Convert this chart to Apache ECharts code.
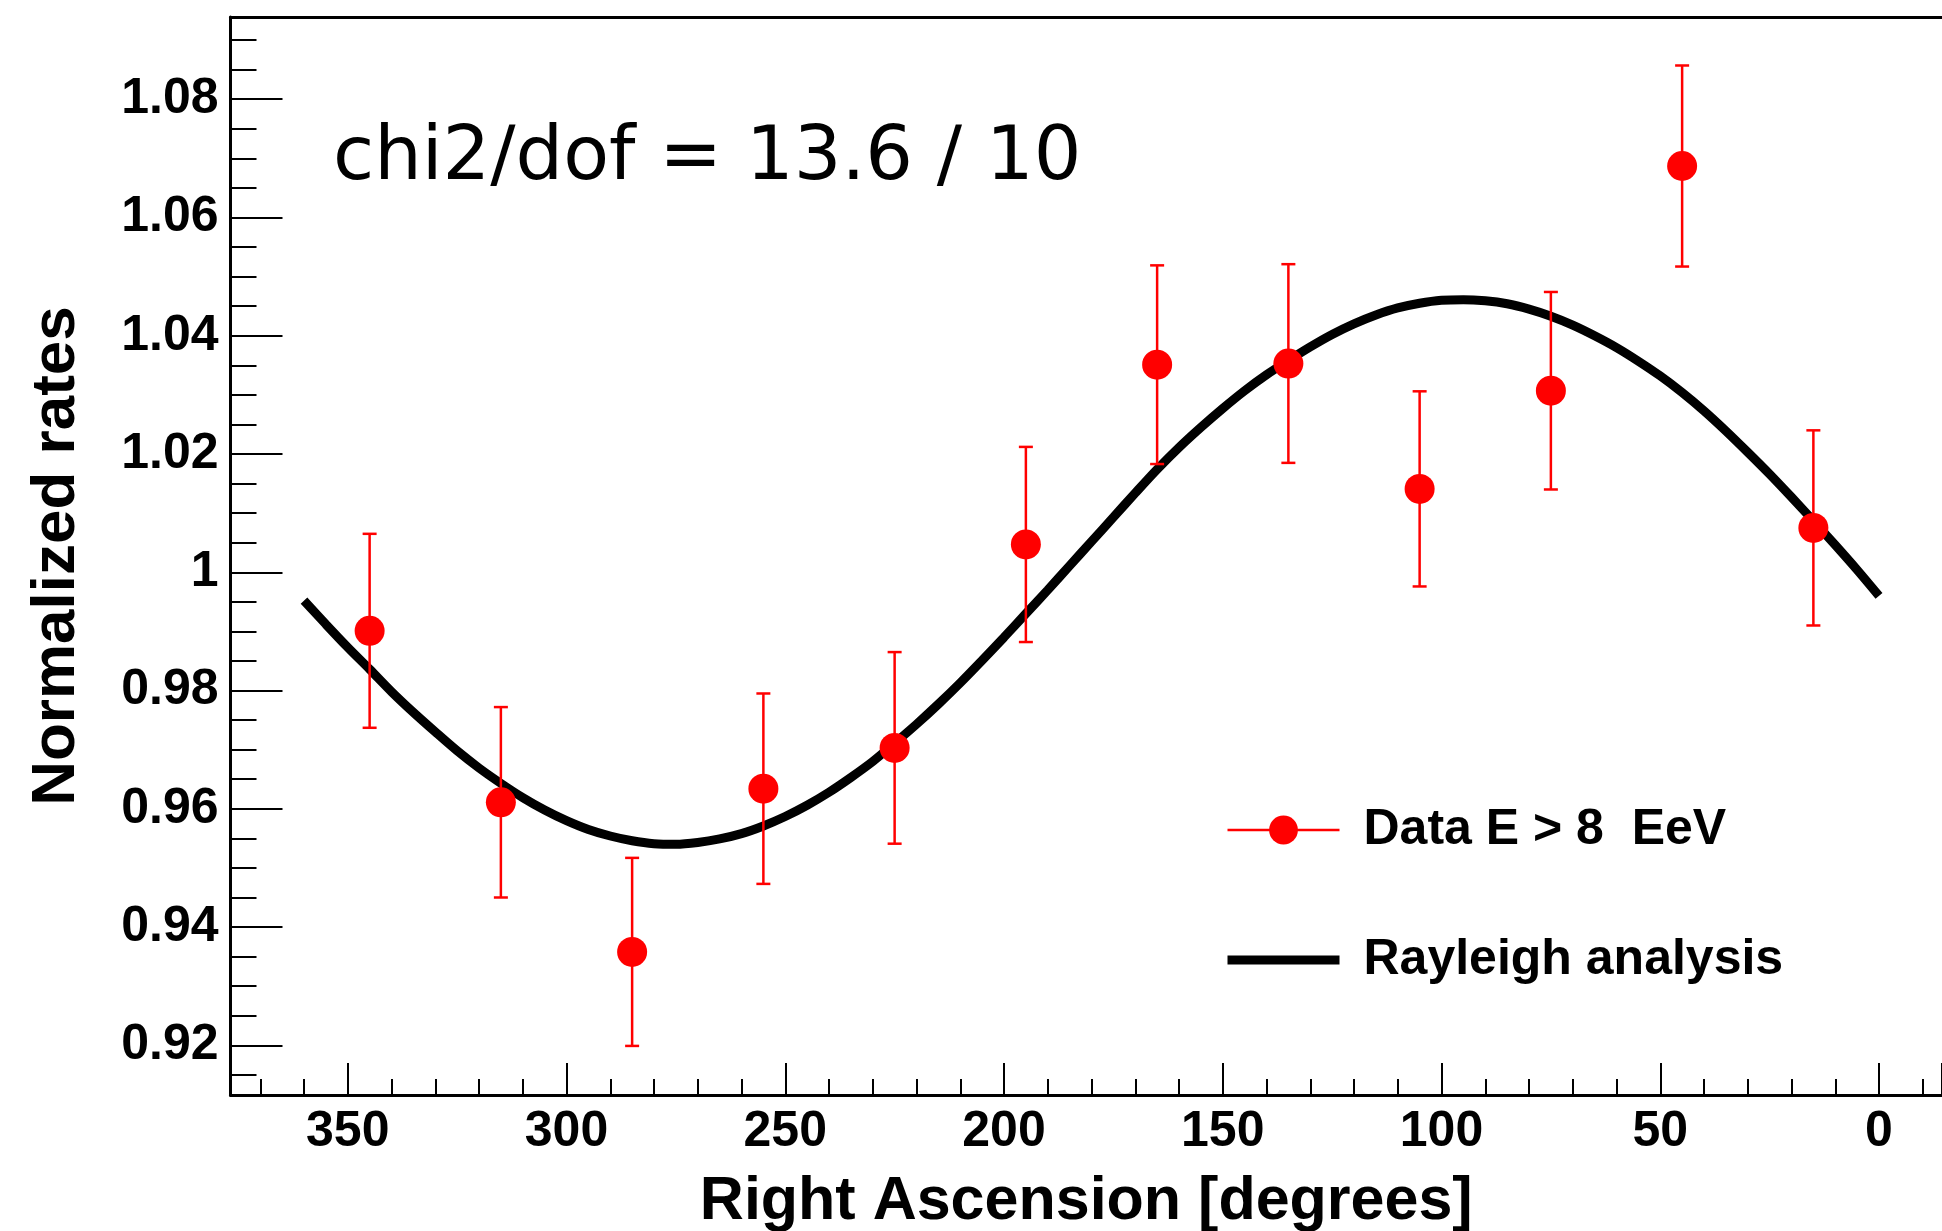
<!DOCTYPE html>
<html>
<head>
<meta charset="utf-8">
<title>Right Ascension rates</title>
<script src="https://cdn.jsdelivr.net/npm/echarts@6/dist/echarts.min.js"></script>
<style>
  html, body { margin: 0; padding: 0; background: #fff; }
  #chart-container { width: 1942px; height: 1231px; }
</style>
</head>
<body>
<div id="chart-container"></div>
<script>
// binned data (RA bin centres, normalized rate, 1-sigma error)
var raBins = [345, 315, 285, 255, 225, 195, 165, 135, 105, 75, 45, 15];
var rates = [0.9901, 0.9611, 0.9358, 0.9634, 0.9703, 1.0047, 1.0351, 1.0353, 1.0141, 1.0307, 1.0687, 1.0075];
var rateErrors = [0.0164, 0.0161, 0.0159, 0.0161, 0.0162, 0.0165, 0.0168, 0.0168, 0.0165, 0.0167, 0.0170, 0.0165];

// Rayleigh curve, every 5 degrees (360 -> 0)
var fitRA = [360, 355, 350, 345, 340, 335, 330, 325, 320, 315, 310, 305, 300,
             295, 290, 285, 280, 275, 270, 265, 260, 255, 250, 245, 240,
             235, 230, 225, 220, 215, 210, 205, 200, 195, 190, 185, 180,
             175, 170, 165, 160, 155, 150, 145, 140, 135, 130, 125, 120,
             115, 110, 105, 100, 95, 90, 85, 80, 75, 70, 65, 60,
             55, 50, 45, 40, 35, 30, 25, 20, 15, 10, 5, 0];
var fitRates = [0.9952, 0.9912, 0.9873, 0.9836, 0.9798, 0.9763, 0.9730, 0.9698, 0.9669,
                0.9643, 0.9619, 0.9598, 0.9580, 0.9565, 0.9554, 0.9546, 0.9541, 0.9540,
                0.9543, 0.9549, 0.9558, 0.9571, 0.9587, 0.9606, 0.9628, 0.9653, 0.9680,
                0.9711, 0.9743, 0.9777, 0.9813, 0.9851, 0.9890, 0.9930, 0.9970, 1.0011,
                1.0052, 1.0093, 1.0134, 1.0174, 1.0211, 1.0245, 1.0277, 1.0307, 1.0334,
                1.0358, 1.0381, 1.0402, 1.0420, 1.0435, 1.0447, 1.0455, 1.0460, 1.0461,
                1.0459, 1.0454, 1.0445, 1.0433, 1.0418, 1.0400, 1.0380, 1.0357, 1.0332,
                1.0304, 1.0273, 1.0239, 1.0203, 1.0166, 1.0127, 1.0087, 1.0046, 1.0004,
                0.9960];

var dataName = 'Data E > 8  EeV';
var fitName = 'Rayleigh analysis';
var chi2Text = 'chi2/dof = 13.6 / 10';

var dom = document.getElementById('chart-container');
var myChart = echarts.init(dom, null, { renderer: 'canvas' });

var labelFont = 'Liberation Sans, Arial, Helvetica, sans-serif';

function onStep(v, step) {
    var k = v / step;
    return Math.abs(k - Math.round(k)) < 1e-6;
}

function renderErrorBar(params, api) {
    var x = api.value(0);
    var top = api.coord([x, api.value(2)]);
    var bottom = api.coord([x, api.value(1)]);
    var cap = 7;
    var style = { stroke: '#ff0000', lineWidth: 2.5 };
    return {
        type: 'group',
        children: [
            { type: 'line', shape: { x1: top[0], y1: top[1], x2: bottom[0], y2: bottom[1] }, style: style },
            { type: 'line', shape: { x1: top[0] - cap, y1: top[1], x2: top[0] + cap, y2: top[1] }, style: style },
            { type: 'line', shape: { x1: bottom[0] - cap, y1: bottom[1], x2: bottom[0] + cap, y2: bottom[1] }, style: style }
        ]
    };
}

var option = {
    animation: false,
    backgroundColor: '#ffffff',
    title: {
        text: chi2Text,
        left: 333,
        top: 122,
        padding: 0,
        textStyle: {
            fontFamily: 'DejaVu Sans',
            fontWeight: 'normal',
            fontSize: 75,
            color: '#000'
        }
    },
    legend: {
        orient: 'vertical',
        left: 1223,
        top: 805,
        padding: 0,
        itemGap: 80,
        itemWidth: 112,
        itemHeight: 36,
        textStyle: {
            fontFamily: labelFont,
            fontWeight: 'bold',
            fontSize: 50,
            color: '#000',
            padding: [0, 0, 0, 19]
        },
        data: [
            { name: dataName, lineStyle: { color: '#ff0000', width: 2.5, opacity: 1 } },
            { name: fitName, lineStyle: { color: '#000', width: 9 }, itemStyle: { opacity: 0 } }
        ]
    },
    grid: {
        left: 230.5,
        right: 0,
        top: 17,
        bottom: 136,
        containLabel: false,
        outerBoundsMode: 'none'
    },
    xAxis: [
        {
            type: 'value',
            inverse: true,
            min: -14.4,
            max: 376.8,
            minInterval: 50,
            maxInterval: 50,
            splitNumber: 8,
            position: 'bottom',
            name: 'Right Ascension [degrees]',
            nameLocation: 'middle',
            nameGap: 77,
            nameTextStyle: {
                fontFamily: labelFont,
                fontWeight: 'bold',
                fontSize: 61,
                color: '#000'
            },
            axisLine: { onZero: false, lineStyle: { color: '#000', width: 3 } },
            axisTick: { inside: true, length: 32, lineStyle: { color: '#000', width: 2 } },
            minorTick: { show: true, splitNumber: 5, length: 16, lineStyle: { color: '#000', width: 2 } },
            splitLine: { show: false },
            axisLabel: {
                margin: 12,
                fontFamily: labelFont,
                fontWeight: 'bold',
                fontSize: 50,
                color: '#000',
                formatter: function (v) { return onStep(v, 50) ? String(Math.round(v)) : ''; }
            }
        },
        {
            type: 'value',
            inverse: true,
            min: -14.4,
            max: 376.8,
            position: 'top',
            axisLine: { onZero: false, lineStyle: { color: '#000', width: 3 } },
            axisTick: { show: false },
            axisLabel: { show: false },
            splitLine: { show: false }
        }
    ],
    yAxis: {
        type: 'value',
        position: 'left',
        min: 0.9116,
        max: 1.0939,
        minInterval: 0.02,
        maxInterval: 0.02,
        splitNumber: 9,
        name: 'Normalized rates',
        nameLocation: 'middle',
        nameGap: 143,
        nameTextStyle: {
            fontFamily: labelFont,
            fontWeight: 'bold',
            fontSize: 62,
            color: '#000'
        },
        axisLine: { onZero: false, lineStyle: { color: '#000', width: 3 } },
        axisTick: { inside: true, length: 52, lineStyle: { color: '#000', width: 2 } },
        minorTick: { show: true, splitNumber: 4, length: 26, lineStyle: { color: '#000', width: 2 } },
        splitLine: { show: false },
        axisLabel: {
            margin: 12,
            fontFamily: labelFont,
            fontWeight: 'bold',
            fontSize: 50,
            color: '#000',
            formatter: function (v) { return onStep(v, 0.02) ? String(+v.toFixed(2)) : ''; }
        }
    },
    series: [
        {
            name: fitName,
            type: 'line',
            smooth: 0.3,
            symbol: 'none',
            z: 2,
            lineStyle: { color: '#000', width: 9 },
            itemStyle: { color: '#000' },
            data: fitRA.map(function (ra, i) { return [ra, fitRates[i]]; })
        },
        {
            name: 'errors',
            type: 'custom',
            z: 3,
            renderItem: renderErrorBar,
            encode: { x: 0, y: [1, 2] },
            data: raBins.map(function (ra, i) {
                return [ra, rates[i] - rateErrors[i], rates[i] + rateErrors[i]];
            })
        },
        {
            name: dataName,
            type: 'line',
            z: 4,
            symbol: 'circle',
            symbolSize: 30,
            showAllSymbol: true,
            lineStyle: { opacity: 0, color: '#ff0000', width: 2.5 },
            itemStyle: { color: '#ff0000' },
            data: raBins.map(function (ra, i) { return [ra, rates[i]]; })
        }
    ]
};

if (option && typeof option === 'object') {
    myChart.setOption(option);
}

window.addEventListener('resize', myChart.resize);
</script>
</body>
</html>
